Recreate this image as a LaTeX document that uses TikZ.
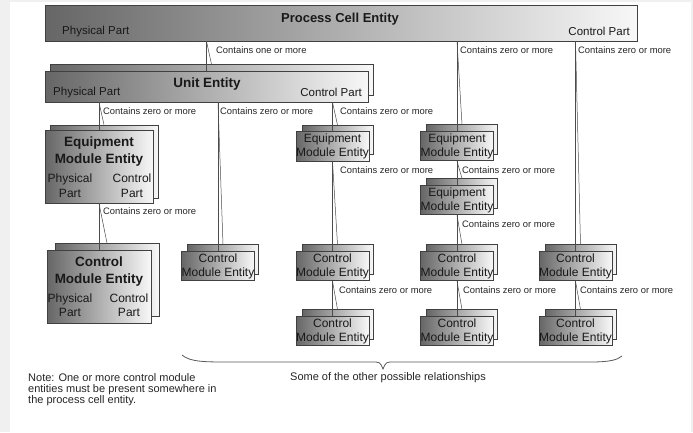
\documentclass[tikz,border=0pt]{standalone}
\usepackage{fontspec}
\setmainfont{Liberation Sans}
\newcommand\smallent[4]{%
  \node[ent, minimum width=71pt, minimum height=29.5pt] (#1b) at (#2+5,#3-6.5) {};
  \node[ent, minimum width=71pt, minimum height=29.5pt] (#1) at (#2,#3) {#4};}
\newcommand\twin[2]{%
  \draw[conn] (#1.south -| #2) -- (#2.north);
  \draw[conn] (#1.south -| #2) -- (#2b.north);}
\begin{document}
\begin{tikzpicture}[x=1pt,y=-1pt,
  ent/.style={draw=black!75, line width=0.6pt, left color=black!60, right color=black!3,
    inner sep=0pt, align=center, text=black!90, font=\fontsize{12}{14}\selectfont},
  conn/.style={draw=black!70, line width=0.5pt},
  lbl/.style={anchor=west, inner sep=0pt, text=black!85, font=\fontsize{9.4}{10}\selectfont},
  part/.style={inner sep=0pt, text=black!90, font=\fontsize{11.5}{13}\selectfont},
  bigpart/.style={inner sep=0pt, align=center, text=black!90, font=\fontsize{12}{14.5}\selectfont},
  title/.style={inner sep=0pt, align=center, text=black!90, font=\bfseries\fontsize{13.5}{17}\selectfont}]
\useasboundingbox (0,0) rectangle (693,432);
\fill[black!6] (0,0) rectangle (693,432);
\fill[white] (10,2) rectangle (691,432);

% Process cell
\node[ent, minimum width=592pt, minimum height=36pt] (pc) at (341,23) {};
\node[title, font=\bfseries\fontsize{13}{15}\selectfont] (pct) at (340,19) {Process Cell Entity};
\node[part, anchor=west] (pcp) at (62,32) {Physical Part};
\node[part, anchor=east] (pcc) at (630,31) {Control Part};

% Unit
\node[ent, minimum width=323pt, minimum height=31pt] (unitb) at (211.5,80) {};
\node[ent, minimum width=323pt, minimum height=31pt] (unit) at (206.5,86.5) {};
\node[title] (unitt) at (207,84.5) {Unit Entity};
\node[part, anchor=west] (unitp) at (53,92.5) {Physical Part};
\node[part, anchor=east] (unitc) at (362,92.5) {Control Part};

% Big equipment module
\node[ent, minimum width=108pt, minimum height=73pt] (emAb) at (104,161.5) {};
\node[ent, minimum width=108pt, minimum height=73pt] (emA) at (99,166.5) {};
\node[title] (emAt) at (99,151.5) {Equipment\\Module Entity};
\node[bigpart] (emAp) at (70,185.5) {Physical\\Part};
\node[bigpart] (emAc) at (132,185.5) {Control\\Part};

% Big control module
\node[ent, minimum width=104pt, minimum height=73pt] (cmAb) at (107,280) {};
\node[ent, minimum width=104pt, minimum height=73pt] (cmA) at (99,286.5) {};
\node[title] (cmAt) at (99,271.5) {Control\\Module Entity};
\node[bigpart] (cmAp) at (70,305) {Physical\\Part};
\node[bigpart] (cmAc) at (129,305) {Control\\Part};

% Small boxes
\smallent{emB}{332.5}{146.5}{Equipment\\Module Entity}
\smallent{emC}{457}{146}{Equipment\\Module Entity}
\smallent{emD}{457}{200}{Equipment\\Module Entity}
\smallent{cmB}{218}{266}{Control\\Module Entity}
\smallent{cmC}{332.5}{266}{Control\\Module Entity}
\smallent{cmD}{457}{266}{Control\\Module Entity}
\smallent{cmE}{575.5}{266}{Control\\Module Entity}
\smallent{cmF}{332.5}{331}{Control\\Module Entity}
\smallent{cmG}{457}{331}{Control\\Module Entity}
\smallent{cmH}{575.5}{331}{Control\\Module Entity}

% Connectors
\twin{pc}{unit}
\twin{pc}{emC}
\twin{pc}{cmE}
\twin{unit}{emA}
\twin{unit}{cmB}
\twin{unit}{emB}
\twin{emB}{cmC}
\twin{emC}{emD}
\twin{emD}{cmD}
\twin{emA}{cmA}
\twin{cmC}{cmF}
\twin{cmD}{cmG}
\twin{cmE}{cmH}

% Labels
\node[lbl] (l1) at (216,50) {Contains one or more};
\node[lbl] (l2) at (460,50) {Contains zero or more};
\node[lbl] (l3) at (578,50) {Contains zero or more};
\node[lbl] (l4) at (103,111) {Contains zero or more};
\node[lbl] (l5) at (220,111) {Contains zero or more};
\node[lbl] (l6) at (340,111) {Contains zero or more};
\node[lbl] (l7) at (340,170) {Contains zero or more};
\node[lbl] (l8) at (462,170) {Contains zero or more};
\node[lbl] (l9) at (462,224) {Contains zero or more};
\node[lbl] (l10) at (103,211) {Contains zero or more};
\node[lbl] (l11) at (339,290) {Contains zero or more};
\node[lbl] (l12) at (463,290) {Contains zero or more};
\node[lbl] (l13) at (580,290) {Contains zero or more};

% Brace
\draw[black!65, line width=0.8pt] (182,355) .. controls (190,362) and (205,362) .. (230,362)
  -- (372,362) .. controls (380,362) .. (383,369) .. controls (386,362) .. (394,362)
  -- (590,362) .. controls (610,362) and (617,360) .. (622,356);
\node[inner sep=0pt, text=black!85, font=\fontsize{11}{13}\selectfont] (rel) at (388,378) {Some of the other possible relationships};
\node[anchor=north west, inner sep=0pt, align=left, text=black!85, font=\fontsize{11}{10.8}\selectfont] (note) at (28,373.5)
  {Note: One or more control module\\entities must be present somewhere in\\the process cell entity.};
\end{tikzpicture}
\end{document}
